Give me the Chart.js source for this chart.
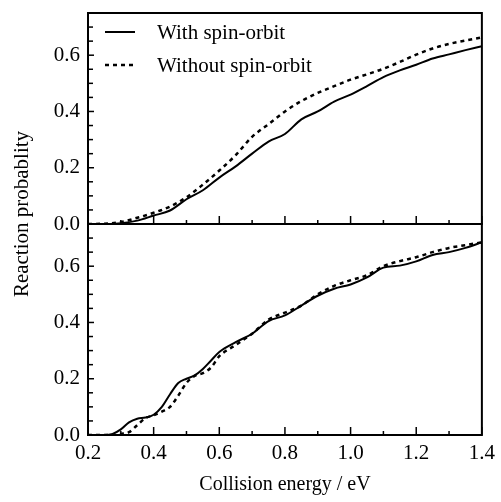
<!DOCTYPE html>
<html><head><meta charset="utf-8">
<style>html,body{margin:0;padding:0;background:#fff}canvas{display:block}</style>
<script src="https://cdn.jsdelivr.net/npm/chart.js@4/dist/chart.umd.min.js"></script>
</head><body>
<canvas id="c" width="501" height="502"></canvas>
<script>
// ---- data ----
const seriesLabels = ['With spin-orbit', 'Without spin-orbit'];
const xTickValues = [0.2, 0.4, 0.6, 0.8, 1.0, 1.2, 1.4];
const xTickLabels = ['0.2', '0.4', '0.6', '0.8', '1.0', '1.2', '1.4'];
const yTickValues = [0.0, 0.2, 0.4, 0.6];
const yTickLabels = ['0.0', '0.2', '0.4', '0.6'];
const xTitle = 'Collision energy / eV';
const yTitle = 'Reaction probablity';

// upper panel
const topEnergy = [0.2,0.25,0.3,0.35,0.4,0.45,0.5,0.55,0.6,0.65,0.7,0.75,0.8,0.85,0.9,0.95,1.0,1.05,1.1,1.15,1.2,1.25,1.3,1.35,1.4];
const topWithSO = [0,0,0.003,0.012,0.03,0.048,0.088,0.12,0.165,0.205,0.25,0.293,0.32,0.372,0.40,0.435,0.46,0.49,0.522,0.546,0.566,0.588,0.603,0.618,0.632];
const topWithoutSO = [0,0.001,0.007,0.022,0.04,0.062,0.095,0.14,0.19,0.245,0.31,0.355,0.40,0.437,0.466,0.49,0.513,0.532,0.552,0.576,0.602,0.624,0.64,0.652,0.663];

// lower panel
const botEnergy = [0.2,0.25,0.275,0.3,0.325,0.35,0.375,0.4,0.425,0.45,0.475,0.5,0.525,0.55,0.575,0.6,0.65,0.7,0.75,0.8,0.85,0.9,0.95,1.0,1.05,1.1,1.15,1.2,1.25,1.3,1.35,1.4];
const botWithSO = [0,0,0.004,0.02,0.045,0.058,0.062,0.072,0.1,0.145,0.185,0.2,0.212,0.235,0.265,0.295,0.33,0.36,0.405,0.425,0.46,0.495,0.52,0.535,0.56,0.595,0.602,0.617,0.64,0.65,0.665,0.685];
const botWithoutSO = [0,0,0,0.004,0.01,0.035,0.06,0.07,0.083,0.1,0.14,0.185,0.21,0.22,0.24,0.28,0.32,0.36,0.41,0.435,0.46,0.5,0.53,0.55,0.568,0.6,0.618,0.632,0.65,0.665,0.675,0.685];

// ---- build ----
const FONT = 'Liberation Serif';
const pts = (xs, ys) => xs.map((x, i) => ({x, y: ys[i]}));
const solidStyle = {borderColor: '#000', borderWidth: 2, borderDash: []};
const dashStyle = {borderColor: '#000', borderWidth: 2.5, borderDash: [4, 4]};

function ds(label, data, axis, style) {
  return Object.assign({label, data, yAxisID: axis, pointRadius: 0, fill: false,
    cubicInterpolationMode: 'monotone'}, style);
}

const datasets = [
  ds(seriesLabels[0], pts(topEnergy, topWithSO), 'yTop', solidStyle),
  ds(seriesLabels[1], pts(topEnergy, topWithoutSO), 'yTop', dashStyle),
  ds(seriesLabels[0], pts(botEnergy, botWithSO), 'yBot', solidStyle),
  ds(seriesLabels[1], pts(botEnergy, botWithoutSO), 'yBot', dashStyle)
];

function yAxis() {
  return {
    type: 'linear', position: 'left', stack: 'panels', stackWeight: 1,
    min: 0, max: 0.75,
    grid: {display: false, drawTicks: false},
    border: {display: false},
    afterBuildTicks: s => { s.ticks = yTickValues.map(v => ({value: v})); },
    afterFit: s => { s.width = 88; s.paddingTop = 0; s.paddingBottom = 0; },
    ticks: {
      color: '#000', padding: 8, font: {family: FONT, size: 21},
      callback: v => { const i = yTickValues.findIndex(t => Math.abs(t - v) < 1e-9); return i >= 0 ? yTickLabels[i] : null; }
    }
  };
}

const framePlugin = {
  id: 'frameTicks',
  afterDraw(chart) {
    const ctx = chart.ctx, ca = chart.chartArea, xs = chart.scales.x;
    ctx.save();
    ctx.strokeStyle = '#000';
    ctx.lineCap = 'butt';
    ['yTop', 'yBot'].forEach(id => {
      const ys = chart.scales[id];
      const top = ys.getPixelForValue(0.75), bot = ys.getPixelForValue(0);
      ctx.lineWidth = 2;
      ctx.setLineDash([]);
      ctx.strokeRect(ca.left, top, ca.right - ca.left, bot - top);
      ctx.lineWidth = 1.5;
      for (let k = 0; k <= 12; k++) {
        const v = 0.2 + k * 0.1;
        const px = xs.getPixelForValue(v);
        const len = (k % 2 === 0) ? 8 : 4;
        ctx.beginPath(); ctx.moveTo(px, bot); ctx.lineTo(px, bot - len); ctx.stroke();
      }
      for (let k = 1; k <= 14; k++) {
        const v = k * 0.05;
        const py = ys.getPixelForValue(v);
        const len = (k % 4 === 0) ? 6 : 5;
        ctx.beginPath(); ctx.moveTo(ca.left, py); ctx.lineTo(ca.left + len, py); ctx.stroke();
      }
    });
    const yt = chart.scales.yTop;
    const lt = yt.getPixelForValue(0.75);
    ctx.font = '21px "' + FONT + '"';
    ctx.fillStyle = '#000';
    ctx.textBaseline = 'middle';
    ctx.textAlign = 'left';
    [0, 1].forEach(i => {
      const d = chart.data.datasets[i];
      const y = lt + 19 + i * 33;
      ctx.lineWidth = d.borderWidth;
      ctx.setLineDash(d.borderDash);
      ctx.beginPath(); ctx.moveTo(ca.left + 17, y); ctx.lineTo(ca.left + 47, y); ctx.stroke();
      ctx.setLineDash([]);
      ctx.fillText(d.label, ca.left + 69, y + 1);
    });
    ctx.save();
    ctx.translate(22, 214);
    ctx.rotate(-Math.PI / 2);
    ctx.textAlign = 'center';
    ctx.fillText(yTitle, 0, 0);
    ctx.restore();
    ctx.restore();
  }
};

new Chart(document.getElementById('c'), {
  type: 'line',
  data: {datasets},
  plugins: [framePlugin],
  options: {
    responsive: false, animation: false, devicePixelRatio: 1,
    layout: {padding: {top: 13, right: 18, left: 0, bottom: 0}},
    plugins: {legend: {display: false}, tooltip: {enabled: false}},
    scales: {
      x: {
        type: 'linear', min: 0.2, max: 1.4,
        grid: {display: false, drawTicks: false},
        border: {display: false},
        afterBuildTicks: s => { s.ticks = xTickValues.map(v => ({value: v})); },
        afterFit: s => { s.height = 67; },
        ticks: {
          color: '#000', padding: 6, maxRotation: 0, font: {family: FONT, size: 21},
          callback: v => { const i = xTickValues.findIndex(t => Math.abs(t - v) < 1e-9); return i >= 0 ? xTickLabels[i] : null; }
        },
        title: {display: true, text: xTitle, color: '#000', font: {family: FONT, size: 20}, padding: {top: 4, bottom: 5}}
      },
      yBot: yAxis(),
      yTop: yAxis()
    }
  }
});
</script>
</body></html>
